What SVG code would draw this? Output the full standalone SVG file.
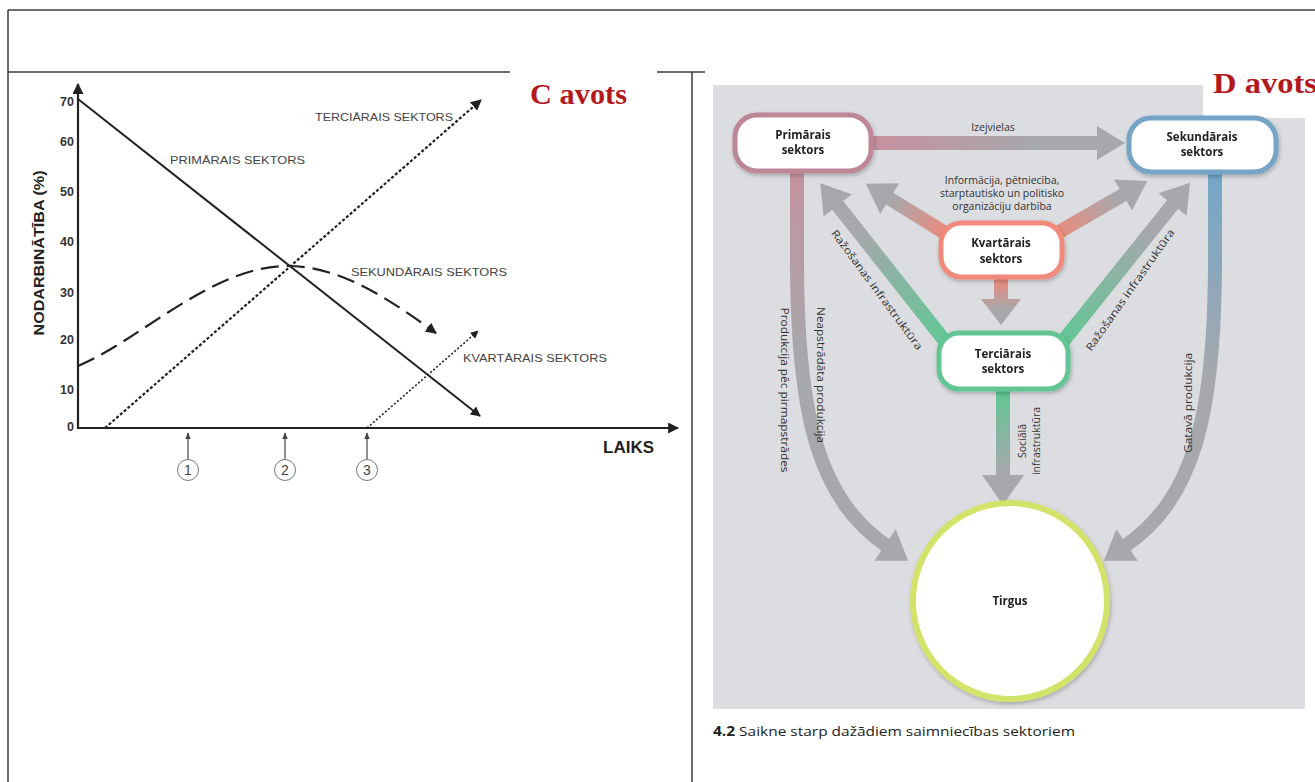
<svg xmlns="http://www.w3.org/2000/svg" width="1315" height="782" viewBox="0 0 1315 782">
<defs>
<style>
.frame{stroke:#3a3a3a;stroke-width:1.5;fill:none}
.ax{stroke:#222;stroke-width:2.2;fill:none}
.tick{font-family:"Liberation Sans",Arial,sans-serif;font-weight:bold;font-size:12.5px;fill:#333;text-anchor:end}
.lab{font-family:"Liberation Sans",Arial,sans-serif;font-size:11.5px;fill:#444}
.src{font-family:"Liberation Serif","Times New Roman",serif;font-weight:bold;font-size:29px;fill:#b3191c}
.node{fill:#fff;stroke-width:5}
.nt{font-family:"Open Sans","Noto Sans",sans-serif;font-weight:bold;font-size:11.5px;fill:#222;text-anchor:middle}
.al{font-family:"Open Sans","Noto Sans",sans-serif;font-size:10.5px;fill:#333;text-anchor:middle}
</style>
<marker id="ah" viewBox="0 0 10 10" refX="9" refY="5" markerWidth="5" markerHeight="5" orient="auto"><path d="M0,0 L10,5 L0,10 z" fill="#222"/></marker>
<marker id="ahs" viewBox="0 0 10 10" refX="9" refY="5" markerWidth="6" markerHeight="6" orient="auto"><path d="M0,1 L10,5 L0,9 z" fill="#444"/></marker>
<filter id="sh" x="-20%" y="-20%" width="140%" height="150%"><feDropShadow dx="1" dy="2" stdDeviation="2" flood-color="#000" flood-opacity="0.25"/></filter>
<linearGradient id="gIz" x1="0" x2="1" y1="0" y2="0"><stop offset="0" stop-color="#c8909f"/><stop offset="0.65" stop-color="#a6a8ac"/></linearGradient>
<linearGradient id="gKv" x1="0" x2="1" y1="0" y2="0"><stop offset="0" stop-color="#f2897a"/><stop offset="0.7" stop-color="#a6a8ac"/></linearGradient>
<linearGradient id="gTe" x1="0" x2="1" y1="0" y2="0"><stop offset="0" stop-color="#5fc794"/><stop offset="0.7" stop-color="#a6a8ac"/></linearGradient>
<linearGradient id="gPr" gradientUnits="userSpaceOnUse" x1="0" y1="172" x2="0" y2="360"><stop offset="0" stop-color="#c4939f"/><stop offset="1" stop-color="#a6a8ac"/></linearGradient>
<linearGradient id="gSe" gradientUnits="userSpaceOnUse" x1="0" y1="172" x2="0" y2="380"><stop offset="0" stop-color="#74a6c8"/><stop offset="1" stop-color="#a6a8ac"/></linearGradient>
</defs>

<rect x="0" y="0" width="1315" height="782" fill="#fff"/>

<!-- page frame -->
<g id="frame">
<line class="frame" x1="8" y1="10" x2="1315" y2="10"/>
<line class="frame" x1="8" y1="10" x2="8" y2="782"/>
<line class="frame" x1="8" y1="72" x2="510" y2="72"/>
<line class="frame" x1="657" y1="72" x2="705" y2="72"/>
<line class="frame" x1="692" y1="72" x2="692" y2="782"/>
</g>

<!-- C chart -->
<g id="chartC">
<line class="ax" x1="78" y1="429" x2="78" y2="84" marker-end="url(#ah)"/>
<line class="ax" x1="77" y1="428" x2="678" y2="428" marker-end="url(#ah)"/>
<text class="tick" x="74" y="106">70</text>
<text class="tick" x="74" y="146">60</text>
<text class="tick" x="74" y="196">50</text>
<text class="tick" x="74" y="246">40</text>
<text class="tick" x="74" y="297">30</text>
<text class="tick" x="74" y="344">20</text>
<text class="tick" x="74" y="394">10</text>
<text class="tick" x="74" y="431">0</text>
<text x="0" y="0" transform="translate(44,253) rotate(-90)" font-family="Liberation Sans,Arial,sans-serif" font-weight="bold" font-size="15.5" fill="#222" text-anchor="middle" textLength="165" lengthAdjust="spacingAndGlyphs">NODARBINĀTĪBA (%)</text>
<text x="603" y="453" font-family="Liberation Sans,Arial,sans-serif" font-weight="bold" font-size="17" fill="#222">LAIKS</text>
</g>

<g id="connectorsC">
<line x1="78" y1="99" x2="480" y2="416" stroke="#222" stroke-width="2" marker-end="url(#ah)"/>
<line x1="105" y1="428" x2="481" y2="100" stroke="#222" stroke-width="2.2" stroke-dasharray="3,2" marker-end="url(#ah)"/>
<path d="M78,366 C140,340 210,268 285,266 C340,265 390,300 436,333" fill="none" stroke="#222" stroke-width="2.2" stroke-dasharray="18,8" marker-end="url(#ah)"/>
<line x1="367" y1="428" x2="478" y2="331" stroke="#222" stroke-width="1.6" stroke-dasharray="2,2" marker-end="url(#ah)"/>
<line x1="188" y1="459" x2="188" y2="433" stroke="#444" stroke-width="1.2" marker-end="url(#ahs)"/>
<line x1="285" y1="459" x2="285" y2="433" stroke="#444" stroke-width="1.2" marker-end="url(#ahs)"/>
<line x1="367" y1="459" x2="367" y2="433" stroke="#444" stroke-width="1.2" marker-end="url(#ahs)"/>
</g>

<g id="chartLabels">
<text class="lab" x="315" y="121" textLength="138" lengthAdjust="spacingAndGlyphs">TERCIĀRAIS SEKTORS</text>
<text class="lab" x="170" y="164" textLength="135" lengthAdjust="spacingAndGlyphs">PRIMĀRAIS SEKTORS</text>
<text class="lab" x="351" y="276" textLength="156" lengthAdjust="spacingAndGlyphs">SEKUNDĀRAIS SEKTORS</text>
<text class="lab" x="463" y="362" textLength="144" lengthAdjust="spacingAndGlyphs">KVARTĀRAIS SEKTORS</text>
</g>

<g id="tick1"><circle cx="188" cy="470" r="10.5" fill="#fff" stroke="#777" stroke-width="1"/><text x="188" y="475" font-family="Liberation Sans,Arial,sans-serif" font-size="14" fill="#444" text-anchor="middle">1</text></g>
<g id="tick2"><circle cx="285" cy="470" r="10.5" fill="#fff" stroke="#777" stroke-width="1"/><text x="285" y="475" font-family="Liberation Sans,Arial,sans-serif" font-size="14" fill="#444" text-anchor="middle">2</text></g>
<g id="tick3"><circle cx="367" cy="470" r="10.5" fill="#fff" stroke="#777" stroke-width="1"/><text x="367" y="475" font-family="Liberation Sans,Arial,sans-serif" font-size="14" fill="#444" text-anchor="middle">3</text></g>

<g id="labelC">
<rect x="511" y="62" width="145" height="60" fill="#fff"/>
<text class="src" x="530" y="104" textLength="97" lengthAdjust="spacingAndGlyphs">C avots</text>
</g>

<!-- D diagram -->
<rect x="713" y="85" width="592" height="624" fill="#dcdde0"/>
<g id="labelD">
<rect x="1203" y="62" width="112" height="56" fill="#fff"/>
<text class="src" x="1213" y="93" textLength="104" lengthAdjust="spacingAndGlyphs">D avots</text>
</g>

<g id="connectorsD">
<!-- Izejvielas -->
<polygon transform="translate(872,143)" fill="url(#gIz)" points="0,-7 225,-7 225,-17 253,0 225,17 225,7 0,7"/>
<!-- Kvartarais -> up-left / up-right / down -->
<polygon transform="translate(950,236) rotate(211.8)" fill="url(#gKv)" points="0,-7 71,-7 71,-18 99,0 71,18 71,7 0,7"/>
<polygon transform="translate(1052,236) rotate(-30)" fill="url(#gKv)" points="0,-7 82,-7 82,-18 110,0 82,18 82,7 0,7"/>
<polygon transform="translate(1001,277) rotate(90)" fill="url(#gKv)" points="0,-7 22,-7 22,-20 48,0 22,20 22,7 0,7"/>
<!-- Terciarais -> Primarais / Sekundarais / Tirgus -->
<polygon transform="translate(948,345) rotate(-128.3)" fill="url(#gTe)" points="0,-7 178,-7 178,-18 206,0 178,18 178,7 0,7"/>
<polygon transform="translate(1060,345) rotate(-51.3)" fill="url(#gTe)" points="0,-7 180,-7 180,-18 208,0 180,18 180,7 0,7"/>
<polygon transform="translate(1003,390) rotate(90)" fill="url(#gTe)" points="0,-7 85,-7 85,-21 115,0 85,21 85,7 0,7"/>
<!-- Primarais -> Tirgus -->
<path d="M797,170 L797,260 C797,420 820,500 887,546" fill="none" stroke="url(#gPr)" stroke-width="14"/>
<polygon transform="translate(885,545) rotate(34)" fill="#a6a8ac" points="0,-19 28,0 0,19"/>
<!-- Sekundarais -> Tirgus -->
<path d="M1215,170 L1215,260 C1215,420 1192,500 1125,546" fill="none" stroke="url(#gSe)" stroke-width="14"/>
<polygon transform="translate(1127,545) rotate(146)" fill="#a6a8ac" points="0,-19 28,0 0,19"/>
</g>

<g id="connectorLabelsD">
<text class="al" x="993" y="131">Izejvielas</text>
<text class="al" x="1002" y="184">Informācija, pētniecība,</text>
<text class="al" x="1002" y="197">starptautisko un politisko</text>
<text class="al" x="1002" y="210">organizāciju darbība</text>
<text class="al" transform="translate(874,292) rotate(53.6)" x="0" y="0" textLength="146" lengthAdjust="spacingAndGlyphs">Ražošanas infrastruktūra</text>
<text class="al" transform="translate(1133,292) rotate(-55)" x="0" y="0" textLength="146" lengthAdjust="spacingAndGlyphs">Ražošanas infrastruktūra</text>
<text class="al" transform="translate(781,390) rotate(90)" x="0" y="0" textLength="165" lengthAdjust="spacingAndGlyphs">Produkcija pēc pirmapstrādes</text>
<text class="al" transform="translate(817,375) rotate(90)" x="0" y="0" textLength="136" lengthAdjust="spacingAndGlyphs">Neapstrādāta produkcija</text>
<text class="al" transform="translate(1192,403) rotate(-90)" x="0" y="0" textLength="100" lengthAdjust="spacingAndGlyphs">Gatavā produkcija</text>
<text class="al" transform="translate(1026,441) rotate(-90)" x="0" y="0">Sociālā</text>
<text class="al" transform="translate(1040,441) rotate(-90)" x="0" y="0">infrastruktūra</text>
</g>

<g id="nodePrimarais" filter="url(#sh)">
<rect class="node" x="735" y="115" width="136" height="56" rx="22" stroke="#bd8795"/>
<text class="nt" x="803" y="139">Primārais</text>
<text class="nt" x="803" y="154">sektors</text>
</g>
<g id="nodeSekundarais" filter="url(#sh)">
<rect class="node" x="1129" y="118" width="147" height="54" rx="22" stroke="#74a4c6"/>
<text class="nt" x="1202" y="141">Sekundārais</text>
<text class="nt" x="1202" y="156">sektors</text>
</g>
<g id="nodeKvartarais" filter="url(#sh)">
<rect class="node" x="941" y="223" width="121" height="54" rx="20" stroke="#f28a7b"/>
<text class="nt" x="1001" y="247">Kvartārais</text>
<text class="nt" x="1001" y="263">sektors</text>
</g>
<g id="nodeTerciarais" filter="url(#sh)">
<rect class="node" x="939" y="333" width="129" height="56" rx="20" stroke="#62c593"/>
<text class="nt" x="1003" y="358">Terciārais</text>
<text class="nt" x="1003" y="373">sektors</text>
</g>
<g id="nodeTirgus" filter="url(#sh)">
<ellipse cx="1010" cy="601" rx="97" ry="98" fill="#fff" stroke="#d3e36a" stroke-width="6"/>
<text class="nt" x="1010" y="605">Tirgus</text>
</g>

<g id="caption">
<text x="713" y="736" font-family="Open Sans,Noto Sans,sans-serif" font-size="13.5" fill="#222" textLength="362" lengthAdjust="spacingAndGlyphs"><tspan font-weight="bold">4.2</tspan> Saikne starp dažādiem saimniecības sektoriem</text>
</g>
</svg>
